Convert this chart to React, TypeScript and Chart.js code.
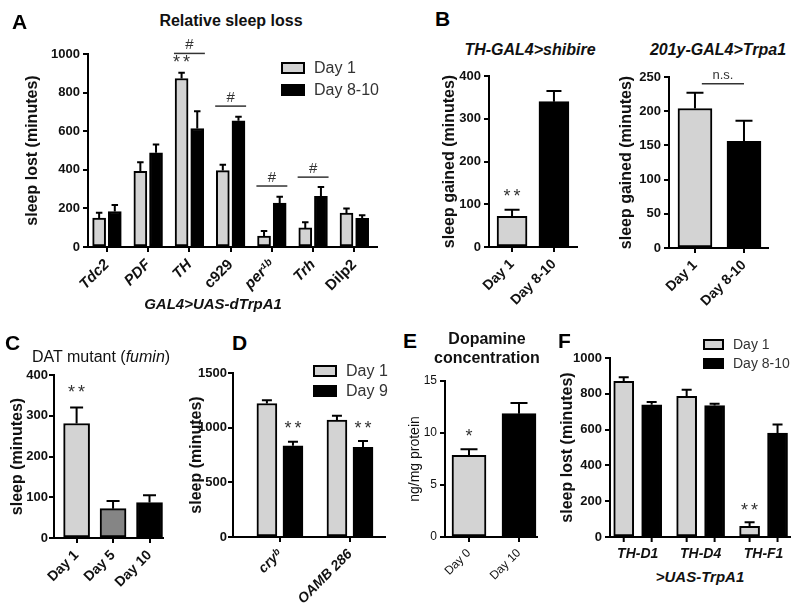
import React, { useEffect, useRef } from 'react';
import { Chart, registerables } from 'chart.js';

Chart.register(...registerables);

const FONT = '"Liberation Sans", Arial, Helvetica, sans-serif';
const LIGHT = '#d3d3d3';
const MID = '#858585';
const DARK = '#000000';

// ---------- Panel A ----------
const aCategories = ['Tdc2', 'PDF', 'TH', 'c929', 'per¹ᵇ', 'Trh', 'Dilp2'];
const aItalic = [true, true, true, false, true, true, false];
const aDay1 = [150, 392, 873, 396, 57, 99, 176];
const aDay1Err = [28, 47, 30, 30, 26, 29, 23];
const aDay8 = [184, 488, 614, 654, 228, 263, 149];
const aDay8Err = [33, 43, 90, 21, 32, 48, 15];
const aYTicks = [0, 200, 400, 600, 800, 1000];

// ---------- Panel B ----------
const bCategories = ['Day 1', 'Day 8-10'];
const b1Values = [72, 340];
const b1Err = [15, 25];
const b1YTicks = [0, 100, 200, 300, 400];
const b2Values = [204, 156];
const b2Err = [23, 30];
const b2YTicks = [0, 50, 100, 150, 200, 250];

// ---------- Panel C ----------
const cCategories = ['Day 1', 'Day 5', 'Day 10'];
const cValues = [281, 72, 87];
const cErr = [39, 19, 18];
const cYTicks = [0, 100, 200, 300, 400];

// ---------- Panel D ----------
const dCategories = ['cryᵇ', 'OAMB 286'];
const dDay1 = [1221, 1069];
const dDay1Err = [30, 39];
const dDay9 = [835, 820];
const dDay9Err = [36, 57];
const dYTicks = [0, 500, 1000, 1500];

// ---------- Panel E ----------
const eCategories = ['Day 0', 'Day 10'];
const eValues = [7.85, 11.86];
const eErr = [0.58, 1.02];
const eYTicks = [0, 5, 10, 15];

// ---------- Panel F ----------
const fCategories = ['TH-D1', 'TH-D4', 'TH-F1'];
const fDay1 = [870, 786, 60];
const fDay1Err = [22, 37, 22];
const fDay8 = [739, 734, 581];
const fDay8Err = [15, 11, 47];
const fYTicks = [0, 200, 400, 600, 800, 1000];

// ---------- plugins ----------
const errorBarPlugin = {
  id: 'errorBars',
  afterDatasetsDraw(chart: any) {
    const ctx = chart.ctx;
    const ys = chart.scales.y;
    ctx.save();
    ctx.strokeStyle = '#000';
    ctx.lineWidth = 2;
    chart.data.datasets.forEach((ds: any, di: number) => {
      if (!ds.errors) return;
      const meta = chart.getDatasetMeta(di);
      meta.data.forEach((el: any, i: number) => {
        const v = ds.data[i].y;
        const yTop = ys.getPixelForValue(v + ds.errors[i]);
        const cap = Math.max(6, el.width * 0.5);
        ctx.beginPath();
        ctx.moveTo(el.x, el.y);
        ctx.lineTo(el.x, yTop);
        ctx.moveTo(el.x - cap / 2, yTop);
        ctx.lineTo(el.x + cap / 2, yTop);
        ctx.stroke();
      });
    });
    ctx.restore();
  },
};

const barTickPlugin = {
  id: 'barTicks',
  afterDraw(chart: any) {
    const ctx = chart.ctx;
    const bottom = chart.chartArea.bottom;
    ctx.save();
    ctx.strokeStyle = '#000';
    ctx.lineWidth = 2;
    chart.data.datasets.forEach((_ds: any, di: number) => {
      chart.getDatasetMeta(di).data.forEach((el: any) => {
        ctx.beginPath();
        ctx.moveTo(el.x, bottom);
        ctx.lineTo(el.x, bottom + 5);
        ctx.stroke();
      });
    });
    ctx.restore();
  },
};

type Mark =
  | { type: 'text'; x: number; y: number; text: string; size?: number; spacing?: number }
  | { type: 'line'; x1: number; x2: number; y: number };

function makeMarksPlugin(items: Mark[]) {
  return {
    id: 'marks',
    afterDraw(chart: any) {
      const ctx = chart.ctx;
      const xs = chart.scales.x;
      const ys = chart.scales.y;
      ctx.save();
      for (const m of items) {
        if (m.type === 'line') {
          ctx.strokeStyle = '#333';
          ctx.lineWidth = 1.5;
          ctx.beginPath();
          const y = ys.getPixelForValue(m.y);
          ctx.moveTo(xs.getPixelForValue(m.x1), y);
          ctx.lineTo(xs.getPixelForValue(m.x2), y);
          ctx.stroke();
        } else {
          ctx.fillStyle = '#333';
          ctx.font = `normal ${m.size || 18}px ${FONT}`;
          (ctx as any).letterSpacing = `${m.spacing || 0}px`;
          ctx.textAlign = 'center';
          ctx.textBaseline = 'middle';
          ctx.fillText(m.text, xs.getPixelForValue(m.x) + (m.spacing || 0) / 2, ys.getPixelForValue(m.y));
          (ctx as any).letterSpacing = '0px';
        }
      }
      ctx.restore();
    },
  };
}

function barDataset(values: number[], errors: number[], color: string | string[], offset: number, thickness: number) {
  return {
    data: values.map((v, i) => ({ x: i + offset, y: v })),
    errors,
    backgroundColor: color,
    borderColor: '#000',
    borderWidth: 2,
    borderSkipped: false,
    barThickness: thickness,
    grouped: false,
  };
}

interface Box { L: number; R: number; T: number; B: number; yW: number; xH: number; padT?: number; padR?: number }

interface ScaleOpts {
  cats: string[];
  xMin: number;
  xMax: number;
  yTicks: number[];
  yTitle: string;
  box: Box;
  rotate: number;
  catFont: any;
  yFont: any;
  yTitleFont: any;
  xTickPad?: number;
  yTickPad?: number;
  drawXTicks?: boolean;
}

function makeScales(o: ScaleOpts) {
  return {
    x: {
      type: 'linear',
      offset: false,
      min: o.xMin,
      max: o.xMax,
      afterBuildTicks: (s: any) => {
        s.ticks = o.cats.map((_c, i) => ({ value: i }));
      },
      afterFit: (s: any) => {
        s.height = o.box.xH;
      },
      ticks: {
        autoSkip: false,
        minRotation: o.rotate,
        maxRotation: o.rotate,
        color: '#111',
        font: o.catFont,
        padding: o.xTickPad ?? 4,
        callback: (v: number) => o.cats[Math.round(v)] ?? '',
      },
      grid: {
        offset: false,
        drawOnChartArea: false,
        drawTicks: o.drawXTicks ?? true,
        tickLength: 5,
        color: '#000',
        lineWidth: 2,
      },
      border: { display: true, color: '#000', width: 2 },
    },
    y: {
      min: o.yTicks[0],
      max: o.yTicks[o.yTicks.length - 1],
      afterBuildTicks: (s: any) => {
        s.ticks = o.yTicks.map((v) => ({ value: v }));
      },
      afterFit: (s: any) => {
        s.width = o.box.yW;
      },
      ticks: {
        color: '#111',
        font: o.yFont,
        padding: o.yTickPad ?? 3,
        callback: (v: number) => String(v),
      },
      grid: {
        drawOnChartArea: false,
        drawTicks: true,
        tickLength: 5,
        color: '#000',
        lineWidth: 2,
      },
      border: { display: true, color: '#000', width: 2 },
      title: { display: true, text: o.yTitle, color: '#111', font: o.yTitleFont, padding: 0 },
    },
  };
}

function ChartPanel({ box, makeConfig }: { box: Box; makeConfig: () => any }) {
  const ref = useRef<HTMLCanvasElement>(null);
  const padT = box.padT ?? 12;
  const padR = box.padR ?? 12;
  const left = box.L - box.yW;
  const top = box.T - padT;
  const width = box.R - box.L + box.yW + padR;
  const height = box.B - box.T + padT + box.xH;
  useEffect(() => {
    const cfg = makeConfig();
    cfg.options.layout = { padding: { top: padT, right: padR, left: 0, bottom: 0 } };
    const chart = new Chart(ref.current as HTMLCanvasElement, cfg);
    return () => chart.destroy();
  }, []);
  return (
    <canvas
      ref={ref}
      width={width}
      height={height}
      style={{ position: 'absolute', left, top, width, height }}
    />
  );
}

function baseOptions(scales: any) {
  return {
    responsive: false,
    animation: false,
    events: [],
    plugins: { legend: { display: false }, tooltip: { enabled: false } },
    scales,
  };
}

function Txt({ x, y, size, weight = 'bold', italic = false, align = 'center', color = '#111', children }: any) {
  const tx = align === 'center' ? '-50%' : align === 'right' ? '-100%' : '0';
  return (
    <div
      style={{
        position: 'absolute',
        left: x,
        top: y,
        transform: `translate(${tx}, -50%)`,
        fontFamily: FONT,
        fontSize: size,
        fontWeight: weight,
        fontStyle: italic ? 'italic' : 'normal',
        color,
        whiteSpace: 'nowrap',
        lineHeight: 1,
      }}
    >
      {children}
    </div>
  );
}

function Legend({ x, y, gap, size, boxW, boxH, items }: any) {
  return (
    <>
      {items.map((it: any, i: number) => (
        <React.Fragment key={i}>
          <div
            style={{
              position: 'absolute',
              left: x,
              top: y + i * gap - boxH / 2,
              width: boxW,
              height: boxH,
              boxSizing: 'border-box',
              border: '2px solid #000',
              background: it.color,
            }}
          />
          <Txt x={x + boxW + 9} y={y + i * gap} size={size} weight="normal" align="left" color="#333">
            {it.label}
          </Txt>
        </React.Fragment>
      ))}
    </>
  );
}

const boldTick = (size: number) => ({ family: FONT, size, weight: 'bold' });
const yTitleBold = { family: FONT, size: 16, weight: 'bold', lineHeight: 1.2 };

// ---------- Boxes ----------
const boxA: Box = { L: 88, R: 377, T: 54, B: 247, yW: 65, xH: 62, padT: 22 };
const boxB1: Box = { L: 489, R: 577, T: 76, B: 247, yW: 49, xH: 62 };
const boxB2: Box = { L: 669, R: 768, T: 77, B: 248, yW: 52, xH: 62 };
const boxC: Box = { L: 54, R: 163, T: 375, B: 538, yW: 46, xH: 62 };
const boxD: Box = { L: 233, R: 385, T: 373, B: 537, yW: 46, xH: 72 };
const boxE: Box = { L: 445, R: 537, T: 381, B: 537, yW: 38, xH: 62 };
const boxF: Box = { L: 610, R: 790, T: 358, B: 537, yW: 52, xH: 30, padR: 6 };

export default function App() {
  useEffect(() => {
    document.body.style.margin = '0';
  }, []);

  const configA = () => ({
    type: 'bar',
    data: {
      datasets: [
        barDataset(aDay1, aDay1Err, LIGHT, -0.19, 13),
        barDataset(aDay8, aDay8Err, DARK, 0.19, 13),
      ],
    },
    options: baseOptions(
      makeScales({
        cats: aCategories,
        xMin: -0.46,
        xMax: 6.55,
        yTicks: aYTicks,
        yTitle: 'sleep lost (minutes)',
        box: boxA,
        rotate: 45,
        catFont: (c: any) => ({ family: FONT, size: 15, weight: 'bold', style: aItalic[c.index] ? 'italic' : 'normal' }),
        yFont: boldTick(13),
        yTitleFont: yTitleBold,
      })
    ),
    plugins: [
      errorBarPlugin,
      makeMarksPlugin([
        { type: 'text', x: 2 - 0.19, y: 952, text: '**', size: 18, spacing: 3 },
        { type: 'line', x1: 2 - 0.375, x2: 2 + 0.375, y: 1003 },
        { type: 'text', x: 2, y: 1045, text: '#', size: 15 },
        { type: 'line', x1: 3 - 0.375, x2: 3 + 0.375, y: 730 },
        { type: 'text', x: 3, y: 775, text: '#', size: 15 },
        { type: 'line', x1: 4 - 0.375, x2: 4 + 0.375, y: 316 },
        { type: 'text', x: 4, y: 360, text: '#', size: 15 },
        { type: 'line', x1: 5 - 0.375, x2: 5 + 0.375, y: 362 },
        { type: 'text', x: 5, y: 405, text: '#', size: 15 },
      ]),
    ],
  });

  const configB1 = () => ({
    type: 'bar',
    data: { datasets: [barDataset(b1Values, b1Err, [LIGHT, DARK] as any, 0, 30)] },
    options: baseOptions(
      makeScales({
        cats: bCategories,
        xMin: -0.55,
        xMax: 1.55,
        yTicks: b1YTicks,
        yTitle: 'sleep gained (minutes)',
        box: boxB1,
        rotate: 45,
        catFont: boldTick(14),
        yFont: boldTick(13),
        yTitleFont: yTitleBold,
      })
    ),
    plugins: [errorBarPlugin, makeMarksPlugin([{ type: 'text', x: 0, y: 118, text: '**', size: 18, spacing: 3 }])],
  });

  const configB2 = () => ({
    type: 'bar',
    data: { datasets: [barDataset(b2Values, b2Err, [LIGHT, DARK] as any, 0, 34)] },
    options: baseOptions(
      makeScales({
        cats: bCategories,
        xMin: -0.53,
        xMax: 1.49,
        yTicks: b2YTicks,
        yTitle: 'sleep gained (minutes)',
        box: boxB2,
        rotate: 45,
        catFont: boldTick(14),
        yFont: boldTick(13),
        yTitleFont: yTitleBold,
      })
    ),
    plugins: [
      errorBarPlugin,
      makeMarksPlugin([
        { type: 'line', x1: 0.14, x2: 1.0, y: 240 },
        { type: 'text', x: 0.57, y: 252, text: 'n.s.', size: 13 },
      ]),
    ],
  });

  const configC = () => ({
    type: 'bar',
    data: { datasets: [barDataset(cValues, cErr, [LIGHT, MID, DARK] as any, 0, 26)] },
    options: baseOptions(
      makeScales({
        cats: cCategories,
        xMin: -0.62,
        xMax: 2.37,
        yTicks: cYTicks,
        yTitle: 'sleep (minutes)',
        box: boxC,
        rotate: 45,
        catFont: boldTick(14),
        yFont: boldTick(13),
        yTitleFont: yTitleBold,
        yTickPad: 1,
      })
    ),
    plugins: [errorBarPlugin, makeMarksPlugin([{ type: 'text', x: 0, y: 355, text: '**', size: 18, spacing: 3 }])],
  });

  const configD = () => ({
    type: 'bar',
    data: {
      datasets: [
        barDataset(dDay1, dDay1Err, LIGHT, -0.186, 20),
        barDataset(dDay9, dDay9Err, DARK, 0.186, 20),
      ],
    },
    options: baseOptions(
      makeScales({
        cats: dCategories,
        xMin: -0.67,
        xMax: 1.5,
        yTicks: dYTicks,
        yTitle: 'sleep (minutes)',
        box: boxD,
        rotate: 45,
        catFont: { family: FONT, size: 14, weight: 'bold', style: 'italic' },
        yFont: boldTick(13),
        yTitleFont: yTitleBold,
        yTickPad: 1,
      })
    ),
    plugins: [
      errorBarPlugin,
      makeMarksPlugin([
        { type: 'text', x: 0.186, y: 990, text: '**', size: 18, spacing: 3 },
        { type: 'text', x: 1.186, y: 990, text: '**', size: 18, spacing: 3 },
      ]),
    ],
  });

  const configE = () => ({
    type: 'bar',
    data: { datasets: [barDataset(eValues, eErr, [LIGHT, DARK] as any, 0, 34)] },
    options: baseOptions(
      makeScales({
        cats: eCategories,
        xMin: -0.48,
        xMax: 1.36,
        yTicks: eYTicks,
        yTitle: 'ng/mg protein',
        box: boxE,
        rotate: 45,
        catFont: { family: FONT, size: 12, weight: 'normal' },
        yFont: { family: FONT, size: 12, weight: 'normal' },
        yTitleFont: { family: FONT, size: 14, weight: 'normal', lineHeight: 1.2 },
      })
    ),
    plugins: [errorBarPlugin, makeMarksPlugin([{ type: 'text', x: 0, y: 9.6, text: '*', size: 18 }])],
  });

  const configF = () => ({
    type: 'bar',
    data: {
      datasets: [
        barDataset(fDay1, fDay1Err, LIGHT, -0.222, 20),
        barDataset(fDay8, fDay8Err, DARK, 0.222, 20),
      ],
    },
    options: baseOptions(
      makeScales({
        cats: fCategories,
        xMin: -0.44,
        xMax: 2.42,
        yTicks: fYTicks,
        yTitle: 'sleep lost (minutes)',
        box: boxF,
        rotate: 0,
        catFont: { family: FONT, size: 14, weight: 'bold', style: 'italic' },
        yFont: boldTick(13),
        yTitleFont: yTitleBold,
        xTickPad: 9,
        drawXTicks: false,
      })
    ),
    plugins: [errorBarPlugin, barTickPlugin, makeMarksPlugin([{ type: 'text', x: 2 - 0.222, y: 143, text: '**', size: 18, spacing: 3 }])],
  });

  return (
    <div style={{ position: 'fixed', left: 0, top: 0, width: 800, height: 603, background: '#fff', overflow: 'hidden' }}>
      <ChartPanel box={boxA} makeConfig={configA} />
      <ChartPanel box={boxB1} makeConfig={configB1} />
      <ChartPanel box={boxB2} makeConfig={configB2} />
      <ChartPanel box={boxC} makeConfig={configC} />
      <ChartPanel box={boxD} makeConfig={configD} />
      <ChartPanel box={boxE} makeConfig={configE} />
      <ChartPanel box={boxF} makeConfig={configF} />

      {/* Panel letters */}
      <Txt x={12} y={21} size={21} align="left" color="#000">A</Txt>
      <Txt x={435} y={18} size={21} align="left" color="#000">B</Txt>
      <Txt x={5} y={342} size={21} align="left" color="#000">C</Txt>
      <Txt x={232} y={342} size={21} align="left" color="#000">D</Txt>
      <Txt x={403} y={340} size={21} align="left" color="#000">E</Txt>
      <Txt x={558} y={340} size={21} align="left" color="#000">F</Txt>

      {/* Titles */}
      <Txt x={231} y={21} size={16}>Relative sleep loss</Txt>
      <Txt x={213} y={303} size={15} italic>GAL4&gt;UAS-dTrpA1</Txt>
      <Txt x={530} y={50} size={16} italic>TH-GAL4&gt;shibire</Txt>
      <Txt x={718} y={50} size={16} italic>201y-GAL4&gt;Trpa1</Txt>
      <Txt x={32} y={357} size={16} weight="normal" align="left">
        DAT mutant (<i>fumin</i>)
      </Txt>
      <Txt x={487} y={339} size={16}>Dopamine</Txt>
      <Txt x={487} y={358} size={16}>concentration</Txt>
      <Txt x={700} y={576} size={15} italic>&gt;UAS-TrpA1</Txt>

      {/* Legends */}
      <Legend x={281} y={68} gap={22} size={16} boxW={24} boxH={12}
        items={[{ label: 'Day 1', color: LIGHT }, { label: 'Day 8-10', color: DARK }]} />
      <Legend x={313} y={371} gap={20} size={16} boxW={24} boxH={12}
        items={[{ label: 'Day 1', color: LIGHT }, { label: 'Day 9', color: DARK }]} />
      <Legend x={703} y={344} gap={19} size={14} boxW={21} boxH={11}
        items={[{ label: 'Day 1', color: LIGHT }, { label: 'Day 8-10', color: DARK }]} />
    </div>
  );
}
